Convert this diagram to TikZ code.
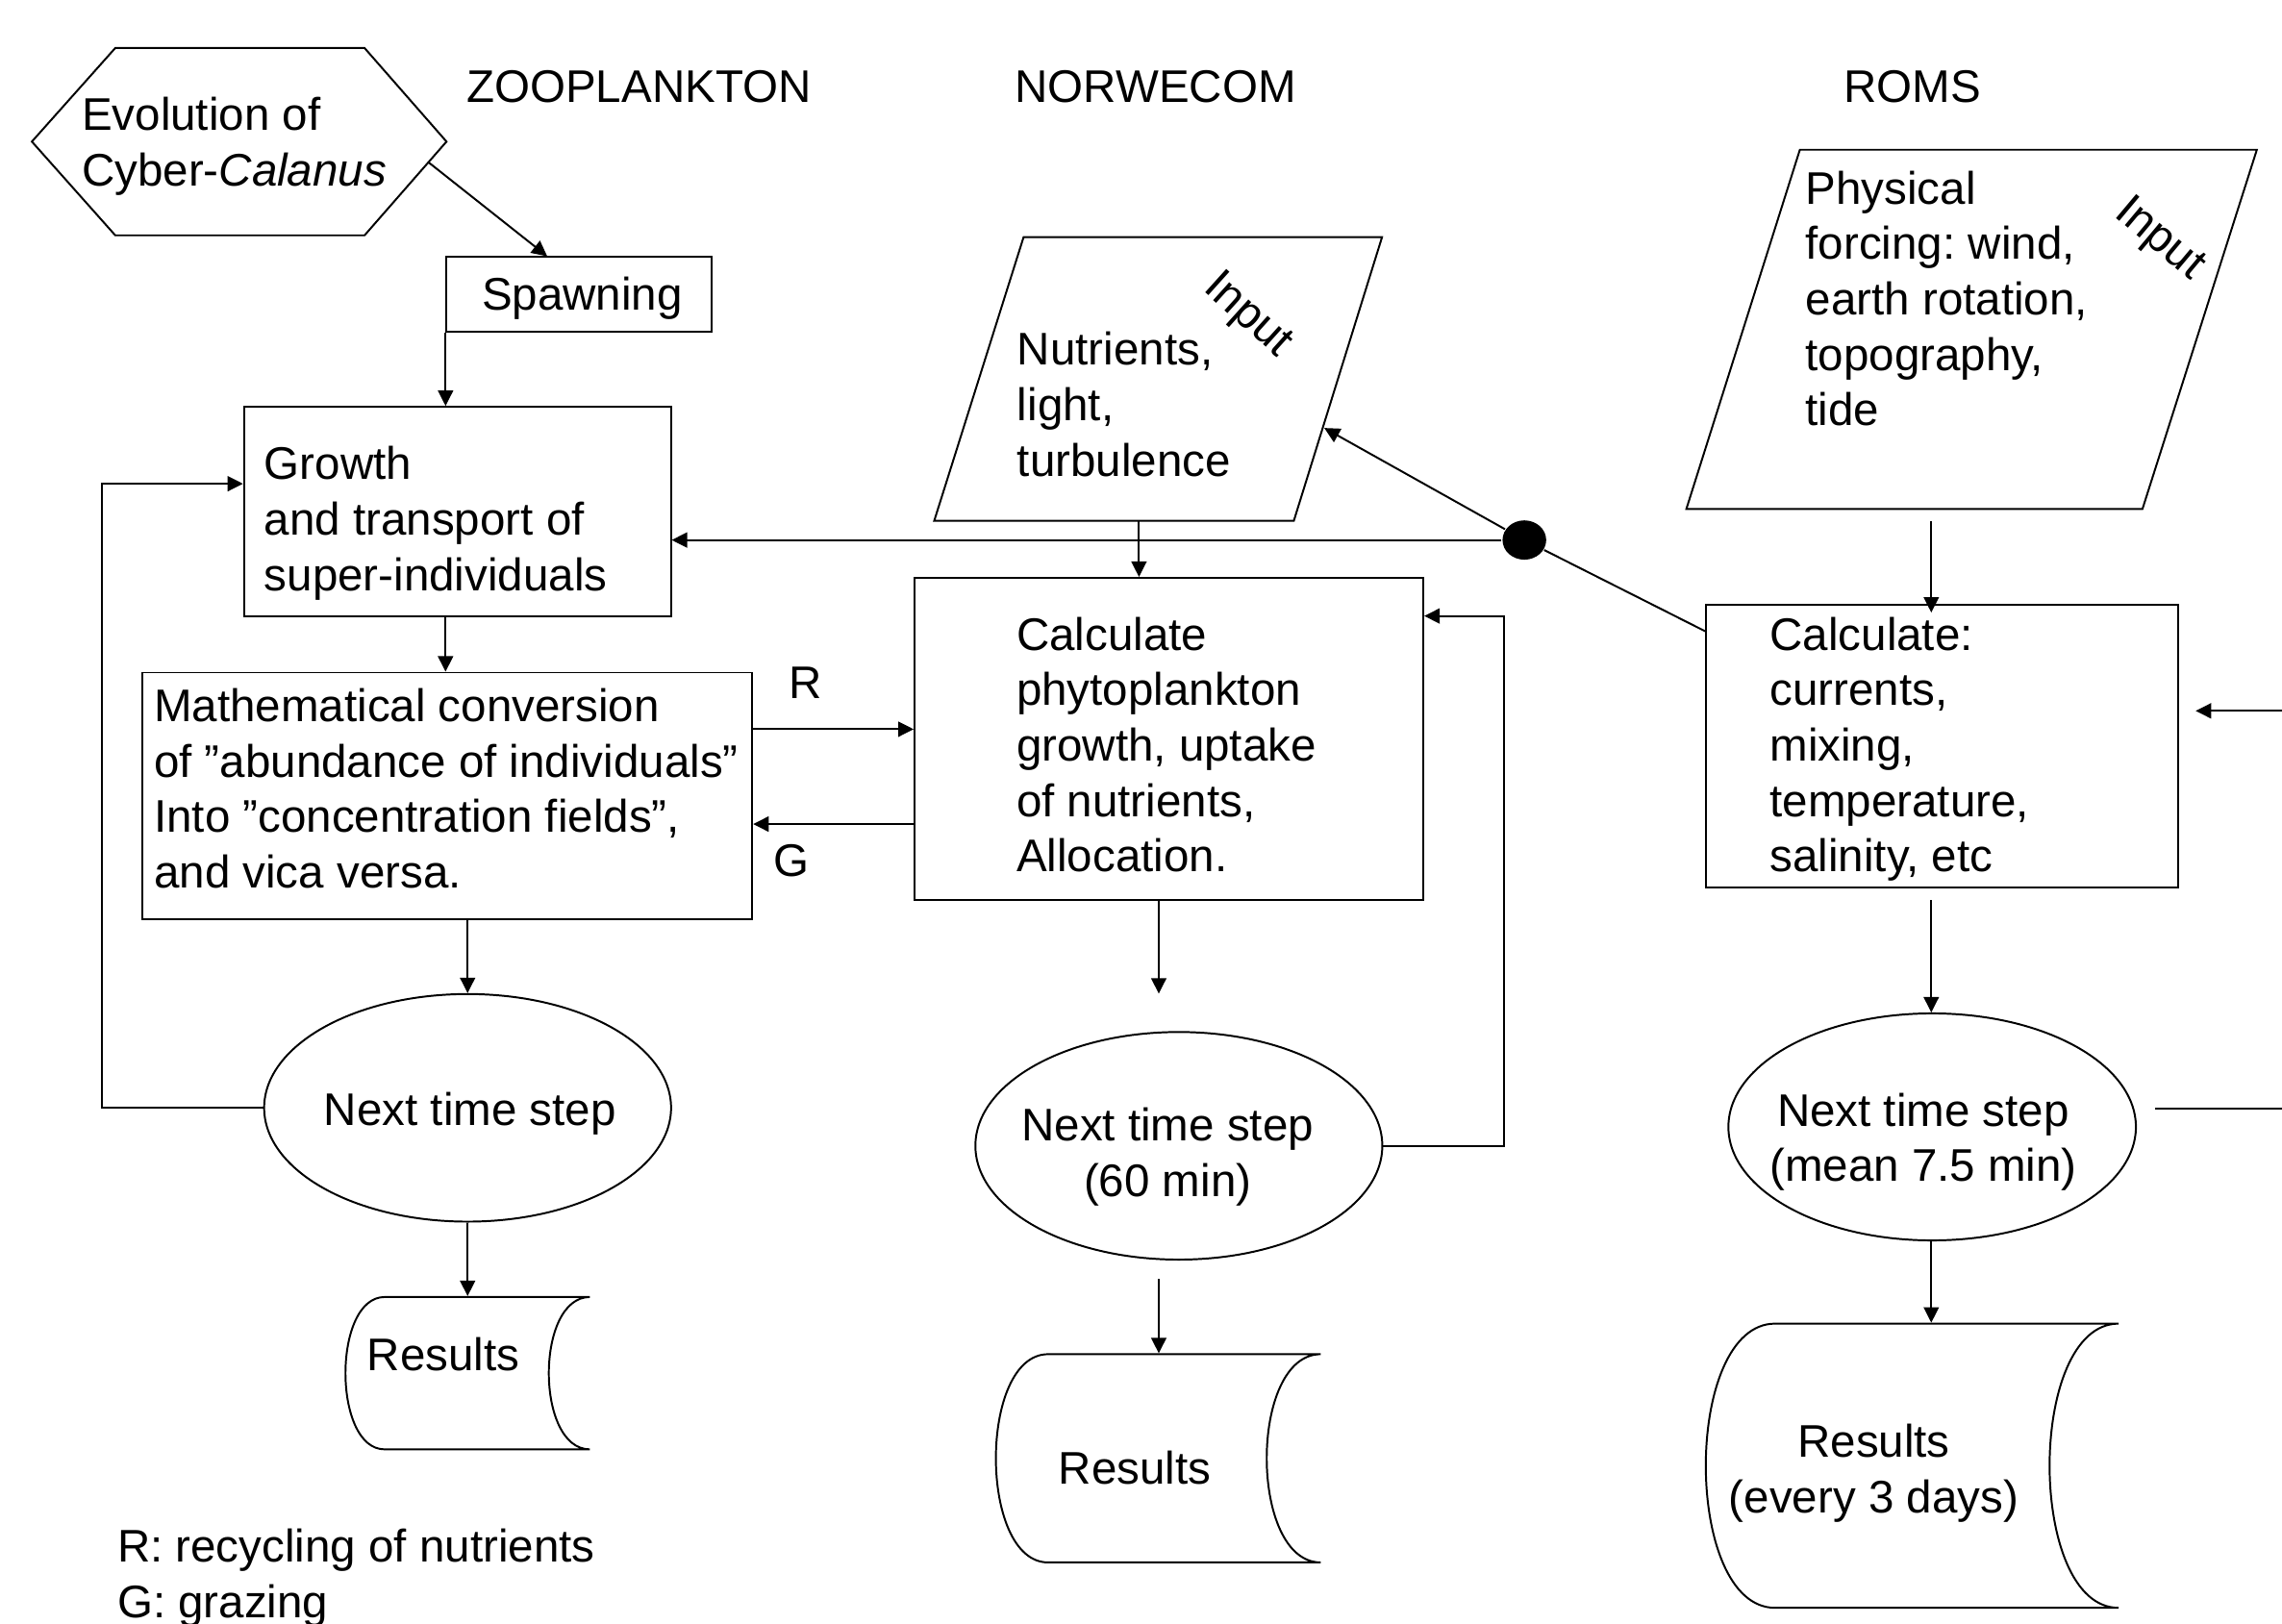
\documentclass[tikz,border=0pt]{standalone}
\usepackage{fontspec}
\setmainfont{Liberation Sans}
\usetikzlibrary{arrows.meta,shapes.geometric,fit,calc}
\newcommand\fsz{\fontsize{15.7pt}{19.05pt}\selectfont}
\frenchspacing
\begin{document}
\begin{tikzpicture}[x=0.5pt,y=-0.5pt, line width=0.65pt,
  box/.style={draw, rectangle, inner sep=0pt},
  hold/.style={rectangle, inner sep=0pt},
  oval/.style={draw, ellipse, inner sep=0pt, minimum width=139.8pt, minimum height=78.2pt},
  txt/.style={anchor=base west, inner sep=0pt, align=left, font=\fsz},
  ctxt/.style={anchor=base, inner sep=0pt, align=center, font=\fsz},
  arr/.style={-{Triangle[length=5.3pt,width=5.2pt]}},
  outl/.style={draw, line join=miter}]
\useasboundingbox (0,0) rectangle (1568,1116);
% (multi-line text nodes are placed at the baseline of their LAST line)

% headers
\node[ctxt] (hz) at (439,70.2) {ZOOPLANKTON};
\node[ctxt] (hn) at (794,70.2) {NORWECOM};
\node[ctxt] (hr) at (1314,70.2) {ROMS};

% ---------------- ZOOPLANKTON ----------------
\draw[outl] (21.9,97.3) -- (79.2,33) -- (250.5,33) -- (306.8,97.3) -- (250.5,161.7) -- (79.2,161.7) -- cycle;
\node[txt] (hext) at (55.6,127.6) {Evolution of\\Cyber-\textit{Calanus}};
\coordinate (hexP) at (294.4,111.5);

\node[box, fit={(306.8,176.1) (488.9,228)}] (spawn) {};
\node[txt] (spawnt) at (330.4,213) {Spawning};

\node[box, fit={(167.6,279.6) (460.9,423.3)}] (growth) {};
\node[txt] (growtht) at (181,405.8) {Growth\\and transport of\\super-individuals};

\node[box, fit={(97.8,462.2) (516.9,631.6)}] (math) {};
\node[txt] (matht) at (105.2,610.3) {Mathematical conversion\\of ”abundance of individuals”\\Into ”concentration fields”,\\and vica versa.};

\node[oval] (e1) at (321.3,761.3) {};
\node[ctxt] (e1t) at (323,773.4) {Next time step};

\node[hold, fit={(237.4,891.3) (405.3,996)}] (res1) {};
\draw[outl] (264.3,891.3) -- (405.3,891.3) .. controls (367.7,891.3) and (367.7,996) .. (405.3,996)
  -- (264.3,996) .. controls (228.4,996) and (228.4,891.3) .. (264.3,891.3) -- cycle;
\node[txt] (res1t) at (251.7,942) {Results};

\node[txt] (lblR) at (541.8,480.2) {R};
\node[txt] (lblG) at (530.8,602.4) {G};
\node[txt] (legend) at (80,1111.8) {R: recycling of nutrients\\G: grazing};

% ---------------- NORWECOM ----------------
\draw[outl] (703.3,163) -- (949.6,163) -- (889,357.9) -- (641.9,357.9) -- cycle;
\node[hold, fit={(641.9,163) (949.6,357.9)}] (npar) {};
\node[txt] (npart) at (698.4,327.1) {Nutrients,\\light,\\turbulence};
\node[font=\fsz, inner sep=0pt, rotate=-42] (ninp) at (857,217) {Input};
\coordinate (npB) at (782.6,357.9);
\coordinate (npR) at (909.9,294.1);

\node[box, fit={(628.4,397.1) (978,618.2)}] (ncalc) {};
\node[txt] (ncalct) at (697.8,599.1) {Calculate\\phytoplankton\\growth, uptake\\of nutrients,\\Allocation.};

\node[oval] (e2) at (810,787.4) {};
\node[ctxt] (e2t) at (802.3,822) {Next time step\\(60 min)};
\coordinate (nc1) at (796.2,618.2);
\coordinate (nc2) at (796.2,682.8);
\coordinate (nc3) at (796.2,878.8);
\coordinate (nl) at (1033.6,423.3);

\node[hold, fit={(684.3,930.6) (907.5,1073.7)}] (res2) {};
\draw[outl] (720.2,930.6) -- (907.5,930.6) .. controls (858,930.6) and (858,1073.7) .. (907.5,1073.7)
  -- (720.2,1073.7) .. controls (672.3,1073.7) and (672.3,930.6) .. (720.2,930.6) -- cycle;
\node[txt] (res2t) at (726.8,1019.8) {Results};

% ---------------- ROMS ----------------
\draw[outl] (1236.7,102.9) -- (1550.7,102.9) -- (1472.1,349.8) -- (1158.7,349.8) -- cycle;
\node[hold, fit={(1158.7,102.9) (1550.7,349.8)}] (rpar) {};
\node[txt] (rpart) at (1240.1,292.5) {Physical\\forcing: wind,\\earth rotation,\\topography,\\tide};
\node[font=\fsz, inner sep=0pt, rotate=-40] (rinp) at (1483.5,164.7) {Input};
\coordinate (rpB) at (1327,358.1);

\node[box, fit={(1172.1,415.6) (1496.7,610.1)}] (rcalc) {};
\node[txt] (rcalct) at (1215.5,599.1) {Calculate:\\currents,\\mixing,\\temperature,\\salinity, etc};
\coordinate (rcL) at (1172.1,434);
\coordinate (rc2) at (1327,618.5);
\coordinate (rin) at (1568,488.5);
\coordinate (rtip) at (1508.7,488.5);

\node[oval, minimum width=140pt, minimum height=78pt] (e3) at (1327.6,774.4) {};
\node[ctxt] (e3t) at (1321.5,812) {Next time step\\(mean 7.5 min)};
\coordinate (e3a) at (1480.6,761.8);
\coordinate (e3b) at (1568,761.8);

\node[hold, fit={(1172.1,909.6) (1455.7,1104.9)}] (res3) {};
\draw[outl] (1219.7,909.6) -- (1455.7,909.6) .. controls (1392.5,909.6) and (1392.5,1104.9) .. (1455.7,1104.9)
  -- (1219.7,1104.9) .. controls (1156.2,1104.9) and (1156.2,909.6) .. (1219.7,909.6) -- cycle;
\node[ctxt] (res3t) at (1287.5,1039.6) {Results\\(every 3 days)};

% junction dot
\node[fill, ellipse, inner sep=0pt, minimum width=15pt, minimum height=13.5pt] (dot) at (1047.4,371.1) {};

% ---------------- connectors ----------------
\coordinate (sIn) at (376,176.1);
\coordinate (yR) at (0,501.1);
\coordinate (yG) at (0,566.3);
\coordinate (lx) at (69.8,332.4);

\draw[arr] (hexP) -- (sIn);
\draw[arr] (spawn.south west) -- (spawn.south west |- growth.north);
\draw[arr] (growth.south -| spawn.south west) -- (spawn.south west |- math.north);
\draw[arr] (math.south -| e1.north) -- (e1.north);
\draw[arr] (e1.west) -| (lx) -- (lx -| growth.west);
\draw[arr] (e1.south) -- (e1.south |- res1.north);
\draw[arr] (math.east |- yR) -- (ncalc.west |- yR);
\draw[arr] (ncalc.west |- yG) -- (math.east |- yG);

\draw[arr] (npB) -- (npB |- ncalc.north);
\draw[arr] (dot) -- (dot -| growth.east);
\draw[arr] (dot) -- (npR);
\draw (rcL) -- (dot);
\draw[arr] (nc1) -- (nc2);
\draw[arr] (e2.east) -| (nl) -- (nl -| ncalc.east);
\draw[arr] (nc3) -- (nc3 |- res2.north);

\draw[arr, shorten >=-3pt] (rpB) -- (rpB |- rcalc.north);
\draw[arr] (rc2) -- (rc2 |- e3.north);
\draw[arr] (rin) -- (rtip);
\draw (e3a) -- (e3b);
\draw[arr] (e3.south -| rc2) -- (rc2 |- res3.north);
\end{tikzpicture}
\end{document}
